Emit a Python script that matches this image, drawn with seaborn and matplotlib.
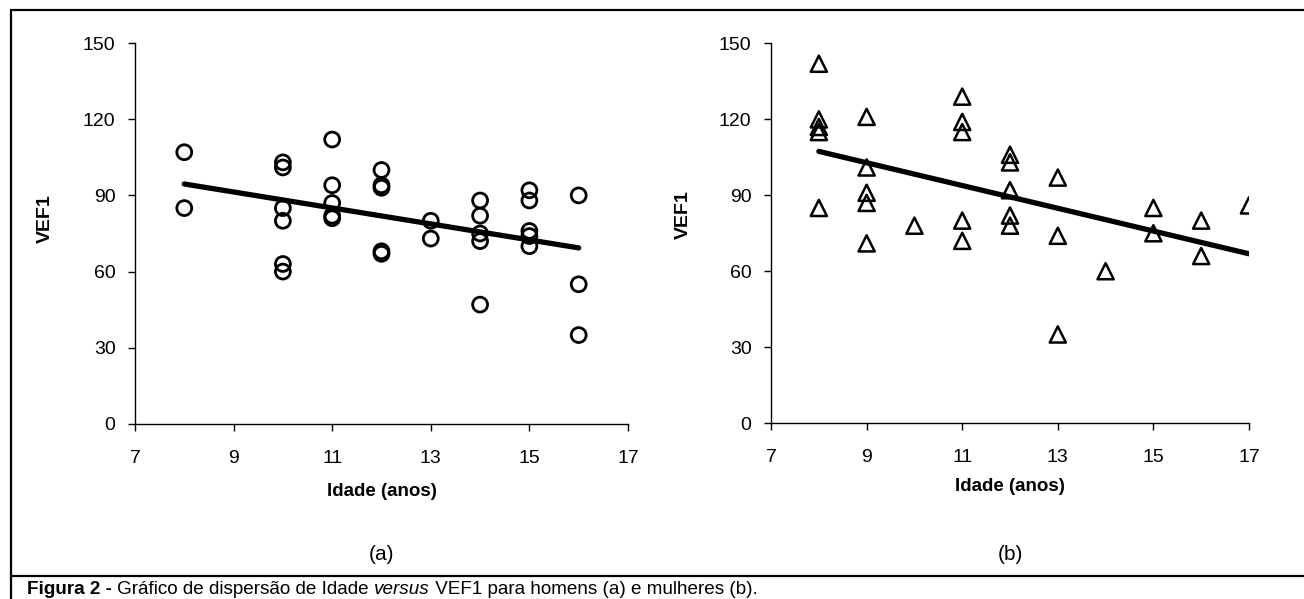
import numpy as np
import pandas as pd
import matplotlib
matplotlib.use("Agg")
import matplotlib.pyplot as plt
import seaborn as sns

# homens (a)
idade_h = [8, 8, 10, 10, 10, 10, 10, 10, 11, 11, 11, 11, 11, 12, 12, 12, 12, 12,
           13, 13, 14, 14, 14, 14, 14, 15, 15, 15, 15, 15, 16, 16, 16]
vef1_h = [107, 85, 103, 101, 85, 80, 63, 60, 112, 94, 87, 82, 81, 100, 94, 93, 68, 67,
          80, 73, 88, 82, 75, 72, 47, 92, 88, 76, 74, 70, 90, 55, 35]

# mulheres (b)
idade_m = [8, 8, 8, 8, 8, 9, 9, 9, 9, 9, 10, 11, 11, 11, 11, 11, 12, 12, 12, 12, 12,
           13, 13, 13, 14, 15, 15, 16, 16, 17]
vef1_m = [142, 120, 117, 115, 85, 121, 101, 91, 87, 71, 78, 129, 119, 115, 80, 72,
          106, 103, 92, 82, 78, 97, 74, 35, 60, 85, 75, 80, 66, 86]

x_ticks = [7, 9, 11, 13, 15, 17]
y_ticks = [0, 30, 60, 90, 120, 150]

df_h = pd.DataFrame({"idade": idade_h, "vef1": vef1_h})
df_m = pd.DataFrame({"idade": idade_m, "vef1": vef1_m})

sns.set_theme(style="white")
plt.rcParams['font.family'] = ['Liberation Sans', 'DejaVu Sans']
plt.rcParams['text.color'] = 'black'
plt.rcParams['axes.labelcolor'] = 'black'

fig = plt.figure(figsize=(13.04, 5.99), dpi=100)
ax1 = fig.add_axes([0.1035, 0.2922, 0.3781, 0.636])
ax2 = fig.add_axes([0.5913, 0.2938, 0.3665, 0.6336])

sns.scatterplot(data=df_h, x="idade", y="vef1", ax=ax1, marker="o", s=115,
                facecolor="none", edgecolor="black", linewidth=2)
sns.regplot(data=df_h, x="idade", y="vef1", ax=ax1, scatter=False, ci=None,
            color="black", line_kws={"linewidth": 3.8})

sns.scatterplot(data=df_m, x="idade", y="vef1", ax=ax2, marker="^", s=135,
                facecolor="none", edgecolor="black", linewidth=1.8)
sns.regplot(data=df_m, x="idade", y="vef1", ax=ax2, scatter=False, ci=None,
            color="black", line_kws={"linewidth": 3.8})

for ax in (ax1, ax2):
    ax.set_xlim(7, 17)
    ax.set_ylim(0, 150)
    ax.set_xticks(x_ticks)
    ax.set_yticks(y_ticks)
    sns.despine(ax=ax)
    for s in ("left", "bottom"):
        ax.spines[s].set_color("black")
        ax.spines[s].set_linewidth(1.0)
    ax.tick_params(axis="both", direction="out", length=5, width=1, colors="black",
                   labelsize=14, left=True, bottom=True)
    ax.tick_params(axis="x", pad=14)
    ax.tick_params(axis="y", pad=9)
    ax.set_xlabel("Idade (anos)", fontsize=13.5, fontweight="bold")
    ax.set_ylabel("VEF1", fontsize=14, fontweight="bold")
    ax.yaxis.label.set_va("center")
    ax.xaxis.label.set_va("center")

ax1.xaxis.set_label_coords(0.5, -0.178)
ax1.yaxis.set_label_coords(-0.1826, 0.54)
ax2.xaxis.set_label_coords(0.5, -0.166)
ax2.yaxis.set_label_coords(-0.184, 0.55)

# (a) / (b)
fig.text(382 / 1304, 1 - 555 / 599, "(a)", ha="center", va="center", fontsize=15)
fig.text(1010 / 1304, 1 - 555 / 599, "(b)", ha="center", va="center", fontsize=15)

# moldura
fig.add_artist(plt.Line2D([11 / 1304, 11 / 1304], [0, 1 - 10 / 599], transform=fig.transFigure,
                          color="black", linewidth=1.6))
fig.add_artist(plt.Line2D([11 / 1304, 1], [1 - 10 / 599, 1 - 10 / 599], transform=fig.transFigure,
                          color="black", linewidth=1.6))
fig.add_artist(plt.Line2D([11 / 1304, 1], [1 - 576 / 599, 1 - 576 / 599], transform=fig.transFigure,
                          color="black", linewidth=1.6))

# legenda
cy = 1 - 590 / 599
t1 = fig.text(27 / 1304, cy, "Figura 2 - ", fontsize=13.6, fontweight="bold", va="center")
fig.canvas.draw()
r = fig.canvas.get_renderer()
bb = t1.get_window_extent(r)
t2 = fig.text(bb.x1 / 1304, cy, "Gráfico de dispersão de Idade ", fontsize=13.6, va="center")
bb = t2.get_window_extent(r)
t3 = fig.text(bb.x1 / 1304, cy, "versus", fontsize=13.6, style="italic", va="center")
bb = t3.get_window_extent(r)
fig.text(bb.x1 / 1304, cy, " VEF1 para homens (a) e mulheres (b).", fontsize=13.6, va="center")

plt.savefig("out.png", dpi=100)
